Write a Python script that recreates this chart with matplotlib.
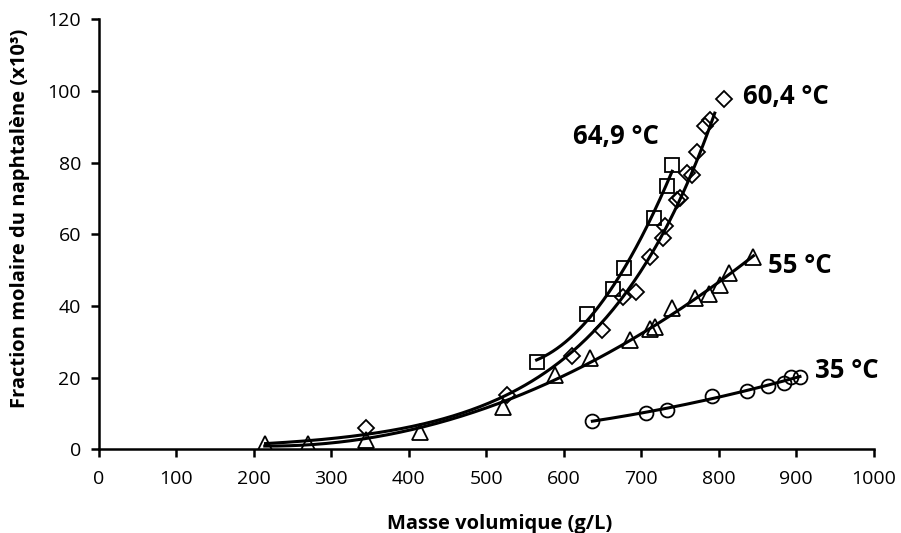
import numpy as np
import matplotlib.pyplot as plt

plt.rcParams['font.family'] = ['Open Sans', 'DejaVu Sans']

# 64,9 °C (carres)
x_649 = [565, 630, 664, 678, 716, 733, 740]
y_649 = [24.4, 37.8, 44.6, 50.5, 64.5, 73.5, 79.3]

# 60,4 °C (losanges)
x_604 = [345, 527, 611, 650, 677, 693, 711, 728, 731, 746, 750, 759, 765, 772, 782, 789, 807]
y_604 = [5.9, 15.2, 26.0, 33.4, 42.4, 44.0, 53.7, 58.9, 62.4, 69.6, 70.2, 77.0, 76.6, 83.0, 90.2, 91.8, 97.7]
# bas de la courbe de tendance 60,4 °C
x_604_low = [215, 280, 345, 420]
y_604_low = [1.5, 2.6, 4.6, 7.5]

# 55 °C (triangles)
x_55 = [214, 270, 345, 414, 521, 589, 634, 686, 711, 718, 740, 769, 787, 802, 813, 845]
y_55 = [1.5, 1.5, 2.6, 4.9, 11.8, 20.7, 25.4, 30.5, 33.6, 34.2, 39.4, 42.3, 43.3, 45.9, 49.1, 53.8]

# 35 °C (cercles)
x_35 = [637, 706, 733, 792, 836, 864, 884, 894, 905]
y_35 = [8.0, 10.2, 11.0, 14.9, 16.3, 17.8, 18.6, 20.3, 20.1]

# etendue des courbes de tendance
trend_649 = (565, 740)
trend_604 = (215, 795)
trend_55 = (214, 845)
trend_35 = (637, 905)

fig = plt.figure(figsize=(9.01, 5.33), dpi=100)
ax = fig.add_axes([0.1099, 0.157, 0.8596, 0.8068])


def trend(xs, ys, deg, rng, log=False):
    xs = np.asarray(xs, float)
    ys = np.asarray(ys, float)
    xx = np.linspace(rng[0], rng[1], 200)
    if log:
        yy = np.exp(np.polyval(np.polyfit(xs, np.log(ys), deg), xx))
    else:
        yy = np.polyval(np.polyfit(xs, ys, deg), xx)
    ax.plot(xx, yy, color='black', lw=2.2, zorder=3)


markers = [
    (x_649, y_649, 's', 10),
    (x_604, y_604, 'D', 8),
    (x_55, y_55, '^', 11),
    (x_35, y_35, 'o', 10),
]
for xs, ys, mk, ms in markers:
    ax.plot(xs, ys, linestyle='none', marker=mk, markersize=ms,
            markerfacecolor='none', markeredgecolor='black', markeredgewidth=1.3, zorder=2)

# courbes de tendance
trend(x_649, y_649, 2, trend_649)
hi = [(x, y) for x, y in zip(x_604, y_604) if x > 500]
trend(x_604_low + [p[0] for p in hi], y_604_low + [p[1] for p in hi], 2, trend_604, log=True)
trend(x_55, y_55, 2, trend_55)
trend(x_35, y_35, 2, trend_35)

ax.set_xlim(0, 1000)
ax.set_ylim(0, 120)
ax.set_xticks(np.arange(0, 1001, 100))
ax.set_yticks(np.arange(0, 121, 20))
for s in ['top', 'right']:
    ax.spines[s].set_visible(False)
for s in ['left', 'bottom']:
    ax.spines[s].set_linewidth(1.8)
ax.tick_params(direction='out', length=6, width=1.8, labelsize=14)
ax.tick_params(axis='x', pad=9)
ax.tick_params(axis='y', pad=7)

lab = dict(fontsize=18.5, fontweight='bold', va='center', ha='left')
ax.text(612, 87.2, '64,9 °C', **lab)
ax.text(831, 98.4, '60,4 °C', **lab)
ax.text(864, 51.4, '55 °C', **lab)
ax.text(924, 22.1, '35 °C', **lab)

fig.text(500 / 901, 1 - 524 / 533, 'Masse volumique (g/L)', fontsize=14.5,
         fontweight='bold', ha='center', va='center')
fig.text(20 / 901, 1 - 218 / 533, 'Fraction molaire du naphtalène (x10³)', fontsize=14.5,
         fontweight='bold', ha='center', va='center', rotation=90)

fig.savefig('out.png', dpi=100)
